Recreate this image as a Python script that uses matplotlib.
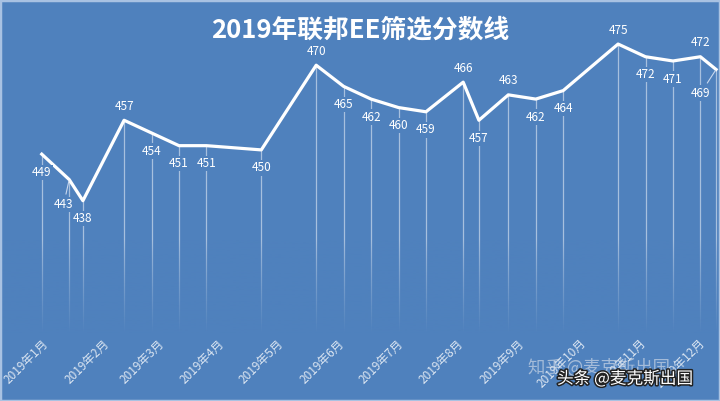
import numpy as np
import matplotlib.pyplot as plt
import matplotlib.dates as mdates
import matplotlib.patheffects as pe
from matplotlib.patches import Rectangle
from matplotlib.colors import to_rgb

plt.rcParams['font.family'] = ['Noto Sans CJK SC', 'DejaVu Sans']

# draw dates and cut-off scores
dates = ['2019-01-09', '2019-01-23', '2019-01-30', '2019-02-20', '2019-03-06',
         '2019-03-20', '2019-04-03', '2019-05-01', '2019-05-29', '2019-06-12',
         '2019-06-26', '2019-07-10', '2019-07-24', '2019-08-12', '2019-08-20',
         '2019-09-04', '2019-09-18', '2019-10-02', '2019-10-30', '2019-11-13',
         '2019-11-27', '2019-12-11', '2019-12-19']
scores = [449, 443, 438, 457, 454, 451, 451, 450, 470, 465, 462, 460, 459,
          466, 457, 463, 462, 464, 475, 472, 471, 472, 469]
month_ticks = ['2019-%02d-01' % m for m in range(1, 13)]
month_labels = ['2019年%d月' % m for m in range(1, 13)]
title = '2019年联邦EE筛选分数线'

bg = '#4F81BD'
above = {3, 8, 13, 15, 18, 21}
special = {1: (-4, -18), 22: (-11, -17)}  # labels moved aside with leader lines

x = mdates.date2num(np.array(dates, dtype='datetime64[D]'))
xt = mdates.date2num(np.array(month_ticks, dtype='datetime64[D]'))

fig = plt.figure(figsize=(7.2, 4.01), dpi=100, facecolor=bg)
ax = fig.add_axes([0, 0.17, 1, 0.83])
ax.set_facecolor(bg)

# drop lines
ax.vlines(x, 380, scores, color='white', alpha=0.5, lw=0.9, zorder=1)

# fade the bottom of the drop lines
grad = np.zeros((100, 1, 4))
grad[:, 0, :3] = to_rgb(bg)
grad[:, 0, 3] = np.linspace(0, 1, 100) ** 0.8
ax.imshow(grad, extent=[0, 1, 0, 0.28], transform=ax.transAxes,
          aspect='auto', zorder=2)

ax.plot(x, scores, color='white', lw=2.3, zorder=4)

for i, (xi, s) in enumerate(zip(x, scores)):
    if i in special:
        dx, dy = special[i]
        ax.annotate(str(s), (xi, s), xytext=(dx, dy), textcoords='offset points',
                    ha='center', va='center', color='white', fontsize=8.5,
                    bbox=dict(boxstyle='square,pad=0.1', fc=bg, ec='none'),
                    arrowprops=dict(arrowstyle='-', color='#C9D8EE', lw=0.8,
                                    shrinkA=2, shrinkB=1),
                    zorder=5)
    else:
        dy = 10 if i in above else -13
        ax.annotate(str(s), (xi, s), xytext=(0, dy), textcoords='offset points',
                    ha='center', va='center', color='white', fontsize=8.5,
                    bbox=dict(boxstyle='square,pad=0.1', fc=bg, ec='none'),
                    zorder=5)

ax.set_xlim(xt[0] - 13.3, xt[0] + 354)
ax.set_ylim(406.8, 485.4)
ax.set_xticks(xt)
ax.set_xticklabels(month_labels, rotation=45, ha='center', fontsize=8.5,
                   color='#DCE6F2')
ax.tick_params(axis='x', length=0, pad=3)
ax.set_yticks([])
for sp in ax.spines.values():
    sp.set_visible(False)

fig.text(0.5, 1 - 30 / 401, title, ha='center', va='center', fontsize=18.5,
         color='white', fontweight='bold')

# watermarks
fig.text(528 / 720, 1 - 368 / 401, '知乎 @麦克斯出国', ha='left', va='center',
         fontsize=12.5, color='#DDE3EC', alpha=0.6)
fig.text(557 / 720, 1 - 379 / 401, '头条 @麦克斯出国', ha='left', va='center',
         fontsize=12, color='white',
         path_effects=[pe.withStroke(linewidth=2.2, foreground='#222222')])

fig.patches.append(Rectangle((0, 0), 1, 1, transform=fig.transFigure,
                             fill=False, ec='#A9C2E2', lw=2.5))

fig.savefig('out.png', dpi=100, facecolor=bg)
